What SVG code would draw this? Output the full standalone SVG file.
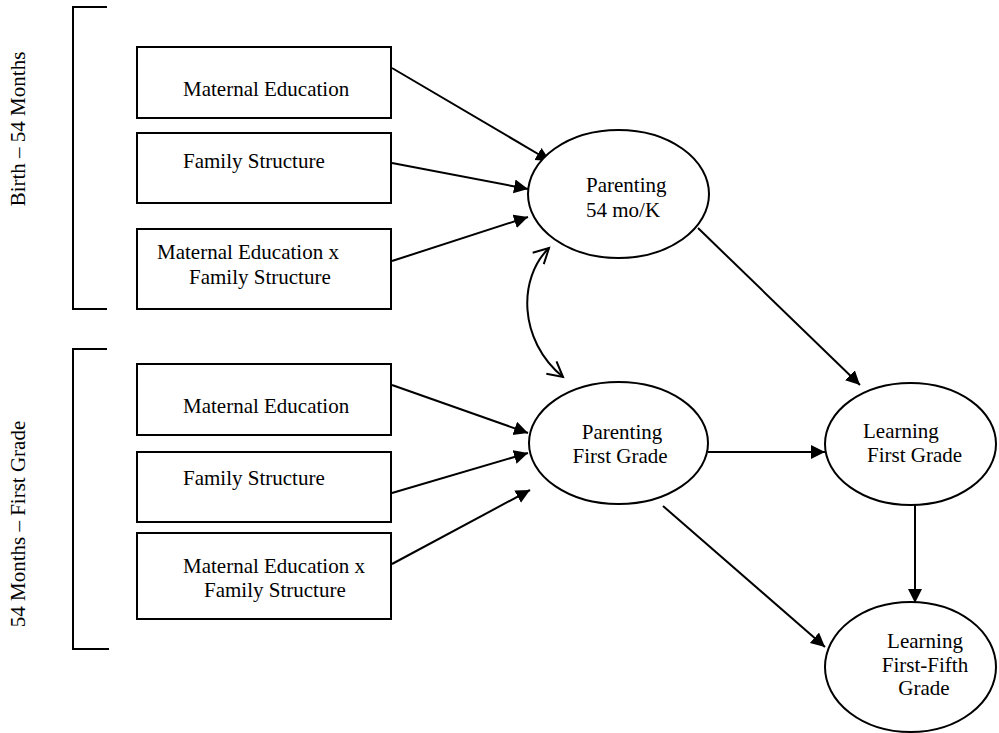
<svg xmlns="http://www.w3.org/2000/svg" width="999" height="733" viewBox="0 0 999 733">
<style>
  text { font-family: "Liberation Serif", "Times New Roman", serif; font-size: 21px; fill: #000; }
  .box { fill: #fff; stroke: #000; stroke-width: 2; }
  .ell { fill: #fff; stroke: #000; stroke-width: 2; }
  .br { fill: none; stroke: #000; stroke-width: 2; }
  .arr { fill: none; stroke: #000; stroke-width: 2; marker-end: url(#ah); }
  .mid { text-anchor: middle; }
</style>
<defs>
  <marker id="ah" markerUnits="userSpaceOnUse" markerWidth="16" markerHeight="16" refX="14" refY="7" orient="auto">
    <path d="M0,0 L14,7 L0,14 z" fill="#000"/>
  </marker>
  <marker id="oh" markerUnits="userSpaceOnUse" markerWidth="20" markerHeight="20" refX="16" refY="9" orient="auto-start-reverse">
    <path d="M1,1 L16,9 L1,17" fill="none" stroke="#000" stroke-width="2"/>
  </marker>
</defs>
<rect width="999" height="733" fill="#fff"/>

<g id="period1">
  <path class="br" d="M107,7 H73 V309 H107"/>
  <text class="mid" transform="translate(25,129) rotate(-90)">Birth – 54 Months</text>
</g>
<g id="period2">
  <path class="br" d="M107,349 H73 V649 H109"/>
  <text class="mid" transform="translate(25,524) rotate(-90)">54 Months – First Grade</text>
</g>

<g id="connectors">
  <line class="arr" x1="392" y1="68" x2="550" y2="161"/>
  <line class="arr" x1="392" y1="163" x2="528" y2="189"/>
  <line class="arr" x1="392" y1="261" x2="528" y2="217"/>
  <line class="arr" x1="392" y1="385" x2="528" y2="433"/>
  <line class="arr" x1="392" y1="493" x2="528" y2="453"/>
  <line class="arr" x1="392" y1="564" x2="530" y2="490"/>
  <line class="arr" x1="698" y1="228" x2="860" y2="385"/>
  <line class="arr" x1="708" y1="452" x2="825" y2="452"/>
  <line class="arr" x1="663" y1="506" x2="825" y2="647"/>
  <line class="arr" x1="915" y1="505" x2="915" y2="603"/>
  <path d="M549,248 C518,278 518,340 563,377" fill="none" stroke="#000" stroke-width="2" marker-start="url(#oh)" marker-end="url(#oh)"/>
</g>

<g id="box-med1">
  <rect class="box" x="137" y="47" width="254" height="71"/>
  <text x="183" y="96">Maternal Education</text>
</g>
<g id="box-fs1">
  <rect class="box" x="137" y="133" width="254" height="70"/>
  <text x="183" y="168">Family Structure</text>
</g>
<g id="box-mxf1">
  <rect class="box" x="137" y="229" width="254" height="80"/>
  <text x="157" y="259">Maternal Education x</text>
  <text x="189" y="284">Family Structure</text>
</g>
<g id="box-med2">
  <rect class="box" x="137" y="364" width="254" height="71"/>
  <text x="183" y="413">Maternal Education</text>
</g>
<g id="box-fs2">
  <rect class="box" x="137" y="452" width="254" height="70"/>
  <text x="183" y="485">Family Structure</text>
</g>
<g id="box-mxf2">
  <rect class="box" x="137" y="533" width="254" height="86"/>
  <text x="183" y="573">Maternal Education x</text>
  <text x="204" y="597">Family Structure</text>
</g>

<g id="parenting-54">
  <ellipse class="ell" cx="618.5" cy="194" rx="90.5" ry="64"/>
  <text x="586" y="192">Parenting</text>
  <text x="586" y="217">54 mo/K</text>
</g>
<g id="parenting-fg">
  <ellipse class="ell" cx="618.5" cy="443" rx="89.5" ry="61"/>
  <text class="mid" x="622" y="439">Parenting</text>
  <text class="mid" x="620" y="463">First Grade</text>
</g>
<g id="learning-fg">
  <ellipse class="ell" cx="910.5" cy="444" rx="85.5" ry="61"/>
  <text x="863" y="438">Learning</text>
  <text x="867" y="462">First Grade</text>
</g>
<g id="learning-ffg">
  <ellipse class="ell" cx="910.5" cy="667" rx="85.5" ry="65"/>
  <text class="mid" x="925" y="648">Learning</text>
  <text class="mid" x="925" y="672">First-Fifth</text>
  <text class="mid" x="924" y="695">Grade</text>
</g>
</svg>
